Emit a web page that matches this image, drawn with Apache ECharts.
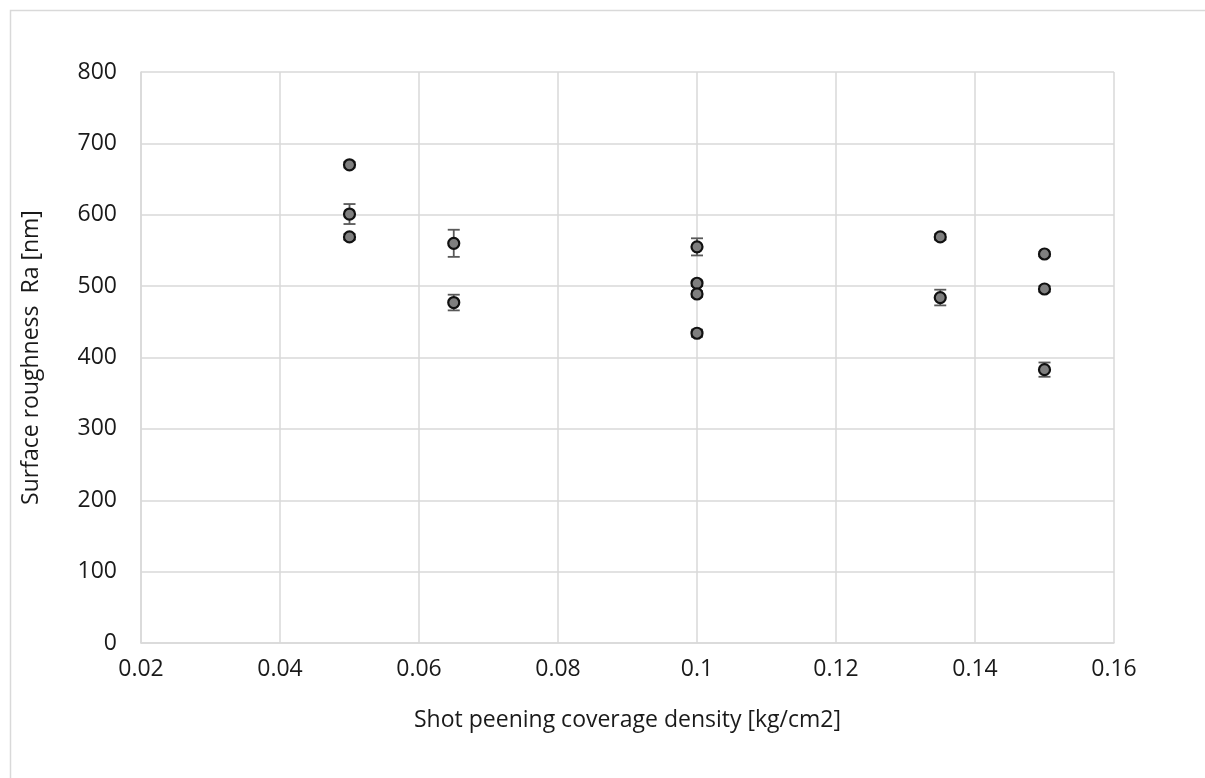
<!DOCTYPE html>
<html>
<head>
<meta charset="utf-8">
<script src="https://cdn.jsdelivr.net/npm/echarts@6/dist/echarts.min.js"></script>
<style>html,body{margin:0;padding:0;background:#fff}#c{width:1205px;height:778px}</style>
</head>
<body>
<div id="c"></div>
<script>
// Data
const xValues = [0.05, 0.05, 0.05, 0.065, 0.065, 0.1, 0.1, 0.1, 0.1, 0.135, 0.135, 0.15, 0.15, 0.15];
const yValues = [670, 601, 569, 560, 477, 555, 504, 489, 434, 569, 484, 545, 496, 383];
const yErrors = [4, 14, 4, 19, 11, 12, 4, 4, 5, 4, 11, 3, 4, 10];
const xTickLabels = ['0.02','0.04','0.06','0.08','0.1','0.12','0.14','0.16'];
const yTickLabels = ['0','100','200','300','400','500','600','700','800'];
const xAxisTitle = 'Shot peening coverage density [kg/cm2]';
const yAxisTitle = 'Surface roughness  Ra [nm]';

const points = xValues.map((x, i) => [x, yValues[i]]);
const errData = xValues.map((x, i) => [x, yValues[i] - yErrors[i], yValues[i] + yErrors[i]]);

const chart = echarts.init(document.getElementById('c'), null, {renderer: 'canvas'});
const FONT = 'Open Sans';
chart.setOption({
  animation: false,
  backgroundColor: '#fff',
  graphic: [{
    type: 'rect', left: 8, top: 8, z: -10,
    shape: {width: 1300, height: 900},
    style: {fill: 'none', stroke: '#d9d9d9', lineWidth: 1.5}
  }],
  grid: {left: 141, right: 91, top: 72, bottom: 135, containLabel: false},
  xAxis: {
    type: 'value', min: 0.02, max: 0.16, interval: 0.02,
    name: xAxisTitle, nameLocation: 'middle', nameGap: 66,
    nameTextStyle: {fontFamily: FONT, fontSize: 23, color: '#1a1a1a'},
    axisLine: {show: true, lineStyle: {color: '#d9d9d9', width: 1.5}},
    axisTick: {show: false},
    splitLine: {show: true, lineStyle: {color: '#d9d9d9', width: 1.5}},
    axisLabel: {
      fontFamily: FONT, fontSize: 23, color: '#1a1a1a', margin: 15,
      formatter: (v) => { const i = Math.round((v - 0.02) / 0.02); return xTickLabels[i] ?? ''; }
    }
  },
  yAxis: {
    type: 'value', min: 0, max: 800, interval: 100,
    name: yAxisTitle, nameLocation: 'middle', nameGap: 98,
    nameTextStyle: {fontFamily: FONT, fontSize: 23, color: '#1a1a1a'},
    axisLine: {show: true, lineStyle: {color: '#d9d9d9', width: 1.5}},
    axisTick: {show: false},
    splitLine: {show: true, lineStyle: {color: '#d9d9d9', width: 1.5}},
    axisLabel: {
      fontFamily: FONT, fontSize: 23, color: '#1a1a1a', margin: 24,
      formatter: (v) => yTickLabels[Math.round(v / 100)] ?? ''
    }
  },
  series: [
    {
      type: 'custom',
      z: 2,
      data: errData,
      renderItem: function (params, api) {
        const x = api.value(0);
        const lo = api.coord([x, api.value(1)]);
        const hi = api.coord([x, api.value(2)]);
        const hw = 6;
        const st = {stroke: '#595959', lineWidth: 1.8};
        return {
          type: 'group',
          children: [
            {type: 'line', shape: {x1: lo[0], y1: lo[1], x2: hi[0], y2: hi[1]}, style: st},
            {type: 'line', shape: {x1: lo[0] - hw, y1: lo[1], x2: lo[0] + hw, y2: lo[1]}, style: st},
            {type: 'line', shape: {x1: hi[0] - hw, y1: hi[1], x2: hi[0] + hw, y2: hi[1]}, style: st}
          ]
        };
      }
    },
    {
      type: 'scatter',
      z: 3,
      data: points,
      symbol: 'circle',
      symbolSize: 11,
      itemStyle: {color: '#7f7f7f', borderColor: '#111', borderWidth: 2.2, opacity: 1}
    }
  ]
});
</script>
</body>
</html>
